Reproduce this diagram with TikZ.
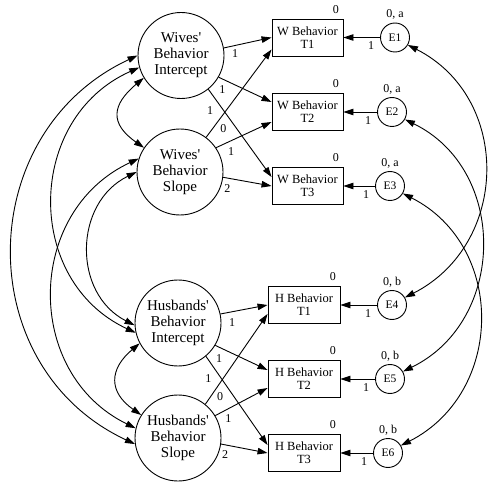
\documentclass[tikz,border=0pt]{standalone}
\usepackage{fontspec}
\setmainfont{Liberation Serif}[Ligatures=TeXOff]
\usetikzlibrary{arrows.meta}
\begin{document}
\begin{tikzpicture}[x=1pt,y=1pt,
  lat/.style={circle,draw,line width=0.9pt,minimum size=86pt,inner sep=0pt,align=center,font=\fontsize{15}{16}\selectfont},
  obs/.style={rectangle,draw,line width=0.9pt,minimum width=71pt,minimum height=37pt,inner sep=0pt,align=center,font=\fontsize{12.5}{13}\selectfont},
  err/.style={circle,draw,line width=0.9pt,minimum size=29pt,inner sep=0pt,font=\fontsize{11.5}{12}\selectfont},
  lab/.style={inner sep=0pt,font=\fontsize{12}{12}\selectfont},
  reg/.style={-{Triangle[length=10pt,width=6.5pt]},line width=0.9pt},
  cov/.style={{Triangle[length=10pt,width=6.5pt]}-{Triangle[length=10pt,width=6.5pt]},line width=0.9pt}]
\useasboundingbox (0,0) rectangle (488,483);
% latent factors
\node[lat] (WI) at (181,427.5) {Wives'\\Behavior\\Intercept};
\node[lat] (WS) at (180,311) {Wives'\\Behavior\\Slope};
\node[lat] (HI) at (178,160) {Husbands'\\Behavior\\Intercept};
\node[lat] (HS) at (178,45) {Husbands'\\Behavior\\Slope};
% observed
\node[obs] (WT1) at (307.5,445.5) {W Behavior\\T1};
\node[obs] (WT2) at (307.5,371) {W Behavior\\T2};
\node[obs] (WT3) at (307.5,297) {W Behavior\\T3};
\node[obs,minimum width=72pt] (HT1) at (304,178) {H Behavior\\T1};
\node[obs,minimum width=72pt] (HT2) at (304,104) {H Behavior\\T2};
\node[obs,minimum width=72pt] (HT3) at (304,30) {H Behavior\\T3};
% errors
\node[err] (E1) at (395,445.5) {E1};
\node[err] (E2) at (392,371) {E2};
\node[err] (E3) at (390,297) {E3};
\node[err] (E4) at (392,178) {E4};
\node[err] (E5) at (390,104) {E5};
\node[err] (E6) at (388,30) {E6};
% labels above boxes
\foreach \b in {WT1,WT2,WT3,HT1,HT2,HT3}{
  \node[lab] (z\b) at ([xshift=-7.5pt,yshift=9pt]\b.north east) {0};
}
% labels above errors and on error paths
\foreach \e/\t in {E1/a,E2/a,E3/a,E4/b,E5/b,E6/b}{
  \node[lab] (v\e) at ([yshift=23pt]\e.center) {0, \t};
  \node[lab] (o\e) at ([xshift=-24pt,yshift=-8.5pt]\e.center) {1};
}
% error paths
\draw[reg] (E1) -- (WT1);
\draw[reg] (E2) -- (WT2);
\draw[reg] (E3) -- (WT3);
\draw[reg] (E4) -- (HT1);
\draw[reg] (E5) -- (HT2);
\draw[reg] (E6) -- (HT3);
% loadings wives
\draw[reg] (WI.10) -- (WT1.west);
\draw[reg] (WI.-30) -- ([yshift=10pt]WT2.west);
\draw[reg] (WI.-51) -- ([yshift=9pt]WT3.west);
\draw[reg] (WS.53) -- ([yshift=-12pt]WT1.west);
\draw[reg] (WS.34) -- ([yshift=-10pt]WT2.west);
\draw[reg] (WS.-7) -- (WT3.west);
% loadings husbands
\draw[reg] (HI.12) -- (HT1.west);
\draw[reg] (HI.-31) -- ([yshift=9pt]HT2.west);
\draw[reg] (HI.-50) -- ([yshift=8pt]HT3.west);
\draw[reg] (HS.51) -- ([yshift=-9pt]HT1.west);
\draw[reg] (HS.31) -- ([yshift=-9pt]HT2.west);
\draw[reg] (HS.-8) -- (HT3.west);
% loading labels
\node[lab] (a1) at (235,429.7) {1};
\node[lab] (a2) at (222.3,393.7) {1};
\node[lab] (a3) at (210,372.3) {1};
\node[lab] (a4) at (223.3,354.7) {0};
\node[lab] (a5) at (231,331.3) {1};
\node[lab] (a6) at (227.3,294.7) {2};
\node[lab] (b1) at (232,160.3) {1};
\node[lab] (b2) at (219,124.7) {1};
\node[lab] (b3) at (208.3,104.7) {1};
\node[lab] (b4) at (220,86.3) {0};
\node[lab] (b5) at (228.3,64.7) {1};
\node[lab] (b6) at (225,28) {2};
% covariances left
\draw[cov] (WI.180) to[out=205,in=155,distance=182pt] (HS.188);
\draw[cov] (WI.196) to[out=204,in=155,distance=124pt] (HI.193);
\draw[cov] (WI.211) to[out=220,in=145,distance=42pt] (WS.146);
\draw[cov] (WS.162) to[out=205,in=154,distance=125pt] (HS.167);
\draw[cov] (WS.180) to[out=206,in=153,distance=70pt] (HI.183);
\draw[cov] (HI.208) to[out=220,in=145,distance=40pt] (HS.148);
% covariances right
\draw[cov] (E1.-30) to[out=-27,in=27,distance=117pt] (E4.30);
\draw[cov] (E2.-30) to[out=-26,in=26,distance=115pt] (E5.30);
\draw[cov] (E3.-30) to[out=-27,in=27,distance=116pt] (E6.30);
\end{tikzpicture}
\end{document}
